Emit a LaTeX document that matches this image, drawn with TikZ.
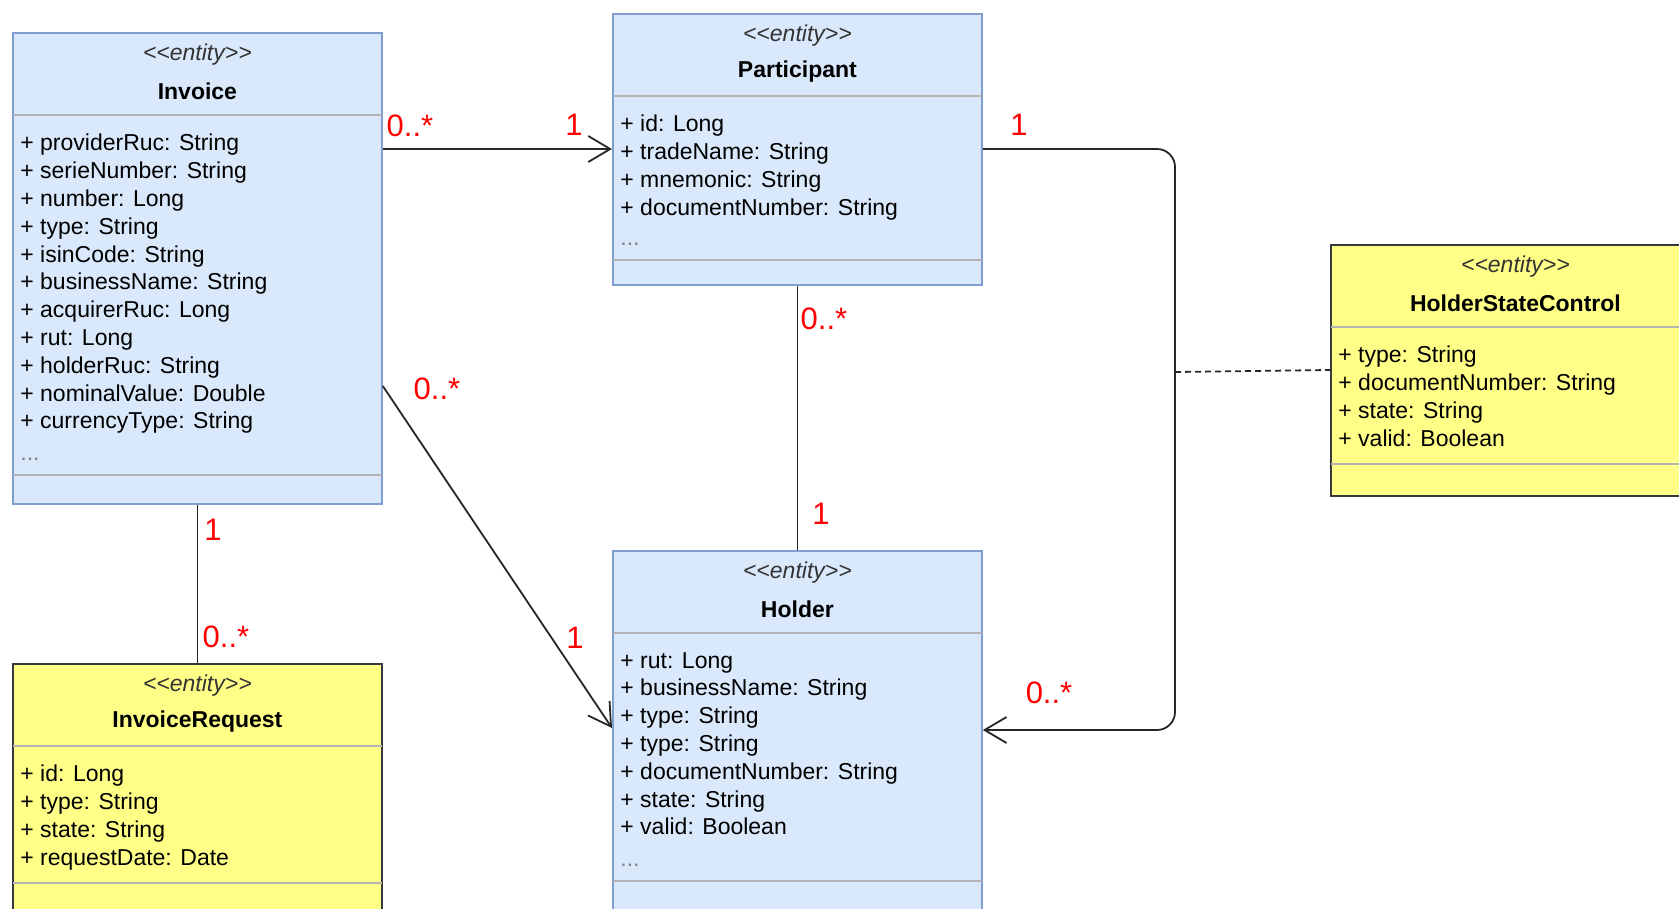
\documentclass[tikz,border=0pt]{standalone}
\usepackage{fontspec}
\setmainfont{Liberation Sans}
\usetikzlibrary{arrows.meta,positioning}

\definecolor{entityblue}{HTML}{DAE8FC}
\definecolor{entityblueline}{HTML}{7E9FCF}
\definecolor{entityyellow}{HTML}{FFFF88}
\definecolor{entityyellowline}{HTML}{36393D}
\definecolor{sepgray}{HTML}{B3B3B3}

\begin{document}
\begin{tikzpicture}[
x=0.5pt, y=-0.5pt,
classbox/.style={draw, anchor=north west, inner sep=0pt, minimum width=184.5pt, line width=0.9pt},
bluebox/.style={classbox, fill=entityblue, draw=entityblueline},
yellowbox/.style={classbox, fill=entityyellow, draw=entityyellowline},
stereo/.style={font=\itshape\fontsize{11.5}{14}\selectfont, text=black!80, inner sep=0pt},
classname/.style={font=\bfseries\fontsize{11.5}{14}\selectfont, inner sep=0pt},
attrs/.style={anchor=north west, align=left, inner sep=0pt, font=\fontsize{11.5}{13.9}\selectfont},
mult/.style={text=red, font=\fontsize{15.5}{16}\selectfont, inner sep=0pt},
assoc/.style={line width=0.9pt, draw=black!85},
openarrow/.style={-{Straight Barb[length=11pt, width=13pt]}}
]
\useasboundingbox (0,0) rectangle (1679,909);
\clip (0,0) rectangle (1679,909);

% entity boxes
\node[bluebox, minimum height=235.5pt] (invoice) at (12,32) {};
\node[bluebox, minimum height=135.5pt] (participant) at (612,13) {};
\node[yellowbox, minimum height=125.5pt] (statecontrol) at (1330,244) {};
\node[yellowbox, minimum height=135pt] (invrequest) at (12,663) {};
\node[bluebox, minimum height=185pt] (holder) at (612,550) {};

% compartment lines
\foreach \cls/\low in {invoice/221.5pt, participant/123.5pt, statecontrol/110pt, invrequest/110pt, holder/165.5pt} {
  \draw[sepgray, line width=0.9pt, shorten <=0.5pt, shorten >=0.5pt] ([yshift=-41.5pt]\cls.north west) -- ([yshift=-41.5pt]\cls.north east);
  \draw[sepgray, line width=0.9pt, shorten <=0.5pt, shorten >=0.5pt] ([yshift=-\low]\cls.north west) -- ([yshift=-\low]\cls.north east);
}

% headers
\foreach \cls/\name in {invoice/Invoice, participant/Participant, statecontrol/HolderStateControl, invrequest/InvoiceRequest, holder/Holder} {
  \node[stereo] at ([yshift=-11.25pt]\cls.north) {<{}<entity>{}>};
  \node[classname] at ([yshift=-29.5pt]\cls.north) {\name};
}

% attributes
\node[attrs] (invoiceattrs) at ([xshift=4pt, yshift=-50.9pt]invoice.north west) {+ providerRuc: String\\+ serieNumber: String\\+ number: Long\\+ type: String\\+ isinCode: String\\+ businessName: String\\+ acquirerRuc: Long\\+ rut: Long\\+ holderRuc: String\\+ nominalValue: Double\\+ currencyType: String\\[2pt]\textcolor{black!50}{...}};
\node[attrs] (participantattrs) at ([xshift=4pt, yshift=-50.9pt]participant.north west) {+ id: Long\\+ tradeName: String\\+ mnemonic: String\\+ documentNumber: String\\[1pt]\textcolor{black!50}{...}};
\node[attrs] (statecontrolattrs) at ([xshift=4pt, yshift=-50.9pt]statecontrol.north west) {+ type: String\\+ documentNumber: String\\+ state: String\\+ valid: Boolean};
\node[attrs] (invrequestattrs) at ([xshift=4pt, yshift=-50.9pt]invrequest.north west) {+ id: Long\\+ type: String\\+ state: String\\+ requestDate: Date};
\node[attrs] (holderattrs) at ([xshift=4pt, yshift=-50.9pt]holder.north west) {+ rut: Long\\+ businessName: String\\+ type: String\\+ type: String\\+ documentNumber: String\\+ state: String\\+ valid: Boolean\\[2pt]\textcolor{black!50}{...}};

% associations
\coordinate (loop) at (1175,372);
\draw[assoc, openarrow] ([yshift=-58.5pt]invoice.north east) -- ([yshift=-68pt]participant.north west);
\draw[assoc, openarrow] ([yshift=-177pt]invoice.north east) -- ([yshift=-89pt]holder.north west);
\draw[assoc] (invoice.south) -- (invrequest.north);
\draw[assoc] (participant.south) -- (holder.north);
\draw[assoc, openarrow, rounded corners=9pt] ([yshift=-68pt]participant.north east) -| (loop) |- ([yshift=-90pt]holder.north east);
\draw[assoc, dash pattern=on 3pt off 2pt] (loop) -- ([yshift=-63pt]statecontrol.north west);

% multiplicities
\node[mult] (m1) at (410,126) {0..*};
\node[mult] (m2) at (574,125) {1};
\node[mult] (m3) at (437,389) {0..*};
\node[mult] (m4) at (575,638) {1};
\node[mult] (m5) at (213,530) {1};
\node[mult] (m6) at (226,637) {0..*};
\node[mult] (m7) at (824,319) {0..*};
\node[mult] (m8) at (821,514) {1};
\node[mult] (m9) at (1019,125) {1};
\node[mult] (m10) at (1049,693) {0..*};

\end{tikzpicture}
\end{document}
